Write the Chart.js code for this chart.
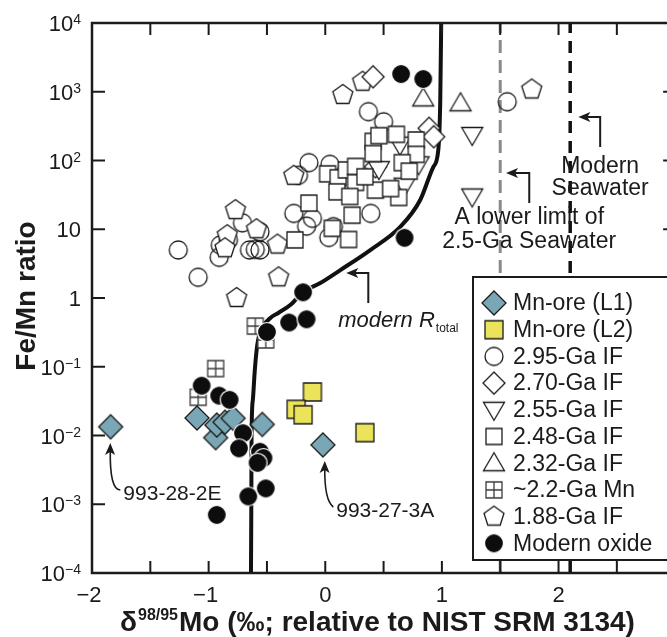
<!DOCTYPE html>
<html>
<head>
<meta charset="utf-8">
<script src="https://cdn.jsdelivr.net/npm/chart.js@4.4.1/dist/chart.umd.min.js"></script>
<style>
  html, body { margin: 0; padding: 0; background: #fff; overflow: hidden; }
  #chart { display: block; }
</style>
</head>
<body>
<canvas id="chart" width="667" height="637"></canvas>
<script>
// ---- data ----
const xTickLabels = [-2, -1, 0, 1, 2];
const yExponents = [-4, -3, -2, -1, 0, 1, 2, 3, 4];
const xMin = -2, xFrame = 3, xVisible = 2.93;   // axis frame is at 3, the picture is cut at ~2.93

const l1X = [-1.84, -1.10, -0.94, -0.93, -0.86, -0.79, -0.54, -0.02];
const l1Y = [0.0134, 0.018, 0.0093, 0.0142, 0.0156, 0.0178, 0.0145, 0.0073];

const l2X = [-0.11, -0.25, -0.19, 0.34];
const l2Y = [0.043, 0.024, 0.020, 0.011];

const if295X = [-1.26, -1.09, -0.91, -0.90, -0.83, -0.71, -0.65, -0.60, -0.56, -0.56, -0.27, -0.16, -0.11, -0.14, -0.23, 0.04, 0.39, 0.07, 0.03, 0.37, 0.50, 1.56];
const if295Y = [5.0, 2.0, 3.9, 5.9, 7.0, 12.4, 5.0, 5.1, 5.0, 9.2, 17, 11.1, 14.4, 93, 61, 88, 17, 10.9, 7.6, 513, 366, 716];

const if270X = [0.41, 0.89, 0.93, 0.43];
const if270Y = [1650, 294, 222, 81];

const if255X = [1.26, 1.26, 0.64, 0.80, 0.46, 0.68];
const if255Y = [235, 30, 170, 88, 75, 43];

const if248X = [0.61, 0.41, 0.46, 0.78, 0.78, 0.41, 0.66, 0.72, 0.02, 0.11, 0.18, 0.26, 0.26, 0.43, 0.63, 0.10, 0.21, 0.23, 0.06, 0.20, -0.14, -0.26, 0.56, 0.34];
const if248Y = [240, 190, 230, 199, 123, 126, 93, 70, 64, 56, 73, 48, 82, 37, 29, 35, 30, 16, 10.3, 7.1, 24, 7.0, 39, 58];

const if232X = [0.84, 1.16];
const if232Y = [800, 680];

const mn22X = [-0.94, -1.09, -0.60, -0.51];
const mn22Y = [0.094, 0.036, 0.39, 0.245];

const if188X = [-0.77, -0.84, -0.86, -0.59, -0.41, -0.40, -0.76, -0.27, 0.15, 0.32, 1.77];
const if188Y = [19, 8.2, 5.3, 10, 6.0, 2.0, 1.0, 60, 900, 1400, 1080];

const oxideX = [0.65, 0.84, 0.68, -0.19, -0.31, -0.16, -0.50, -1.06, -0.91, -0.82, -0.705, -0.74, -0.56, -0.53, -0.58, -0.66, -0.51, -0.93];
const oxideY = [1810, 1530, 7.5, 1.21, 0.44, 0.49, 0.32, 0.053, 0.038, 0.033, 0.0108, 0.0065, 0.0058, 0.0047, 0.0040, 0.0013, 0.0017, 0.0007];

// modern R_total mixing curve
const curveX = [-0.637, -0.634, -0.632, -0.621, -0.604, -0.583, -0.540, -0.471, -0.403, -0.300, -0.189, -0.043, 0.129, 0.386, 0.643, 0.814, 0.926, 0.969, 0.986, 0.994];
const curveY = [1e-4, 9.75e-4, 9.84e-3, 0.0328, 0.0897, 0.207, 0.366, 0.512, 0.605, 0.791, 1.22, 1.65, 2.55, 4.99, 10.8, 26.6, 80.4, 142, 759, 1e4];

const seawaterLimit = 1.5;   // lower limit of 2.5-Ga seawater
const seawaterModern = 2.1;  // modern seawater

// ---- styling ----
const INK = '#1c1a1a';
const FONT = '"Liberation Sans", Arial, sans-serif';

function makeSymbol(kind) {
  const c = document.createElement('canvas');
  c.width = 30; c.height = 30;
  const g = c.getContext('2d');
  g.translate(15, 15);
  g.lineWidth = 1.3;
  g.strokeStyle = INK;
  g.fillStyle = '#fff';
  g.beginPath();
  if (kind === 'circle') {
    g.arc(0, 0, 9, 0, Math.PI * 2);
    g.stroke();
  } else if (kind === 'dot') {
    g.arc(0, 0, 9.5, 0, Math.PI * 2);
    g.fillStyle = '#0e0d0d';
    g.fill();
    g.strokeStyle = '#fff';
    g.lineWidth = 1.2;
    g.stroke();
  } else if (kind === 'diamondL1') {
    g.moveTo(0, -12); g.lineTo(12, 0); g.lineTo(0, 12); g.lineTo(-12, 0); g.closePath();
    g.fillStyle = '#79a7b5';
    g.fill(); g.stroke();
  } else if (kind === 'diamond') {
    g.moveTo(0, -11); g.lineTo(11, 0); g.lineTo(0, 11); g.lineTo(-11, 0); g.closePath();
    g.fill(); g.stroke();
  } else if (kind === 'squareL2') {
    g.rect(-9, -9, 18, 18);
    g.fillStyle = '#ebe35a';
    g.fill(); g.stroke();
  } else if (kind === 'square') {
    g.rect(-8, -8, 16, 16);
    g.fill(); g.stroke();
  } else if (kind === 'grid') {
    g.rect(-8, -8, 16, 16);
    g.fill();
    g.strokeStyle = '#3c3a3a';
    g.moveTo(0, -8); g.lineTo(0, 8); g.moveTo(-8, 0); g.lineTo(8, 0);
    g.stroke();
  } else if (kind === 'triUp') {
    g.moveTo(0, -10.5); g.lineTo(10.5, 7.5); g.lineTo(-10.5, 7.5); g.closePath();
    g.fill(); g.stroke();
  } else if (kind === 'triDown') {
    g.moveTo(0, 10.5); g.lineTo(10.5, -7.5); g.lineTo(-10.5, -7.5); g.closePath();
    g.fill(); g.stroke();
  } else if (kind === 'pentagon') {
    for (let k = 0; k < 5; k++) {
      const t = -Math.PI / 2 + k * 2 * Math.PI / 5;
      const px = 10.5 * Math.cos(t), py = 10.5 * Math.sin(t);
      if (k === 0) g.moveTo(px, py); else g.lineTo(px, py);
    }
    g.closePath();
    g.fill(); g.stroke();
  }
  return c;
}

function pts(xs, ys) {
  return xs.map((x, i) => ({ x: x, y: ys[i] }));
}

function markSet(label, xs, ys, kind, order) {
  const s = makeSymbol(kind);
  return { label: label, data: pts(xs, ys), pointStyle: s, legendSymbol: s,
           pointRadius: 9, pointHoverRadius: 9, order: order };
}

function vline(x, color, width, dash) {
  return { type: 'line', data: [{ x: x, y: 1e-4 }, { x: x, y: 1e4 }],
           borderColor: color, borderWidth: width, borderDash: dash,
           pointRadius: 0, fill: false, order: 20 };
}

const datasets = [
  markSet('Mn-ore (L1)', l1X, l1Y, 'diamondL1', 1),
  markSet('Mn-ore (L2)', l2X, l2Y, 'squareL2', 2),
  markSet('2.95-Ga IF', if295X, if295Y, 'circle', 9),
  markSet('2.70-Ga IF', if270X, if270Y, 'diamond', 7),
  markSet('2.55-Ga IF', if255X, if255Y, 'triDown', 6),
  markSet('2.48-Ga IF', if248X, if248Y, 'square', 4),
  markSet('2.32-Ga IF', if232X, if232Y, 'triUp', 5),
  markSet('~2.2-Ga Mn', mn22X, mn22Y, 'grid', 3),
  markSet('1.88-Ga IF', if188X, if188Y, 'pentagon', 8),
  markSet('Modern oxide', oxideX, oxideY, 'dot', 0),
  { type: 'line', label: 'modern Rtotal', data: pts(curveX, curveY),
    borderColor: '#111', borderWidth: 4, pointRadius: 0, fill: false,
    cubicInterpolationMode: 'monotone', order: 10 },
  vline(seawaterLimit, '#8a8a8a', 3, [13, 7]),
  vline(seawaterModern, '#111', 3.5, [12, 8])
];

// ---- hand-drawn axes, labels, annotations, legend ----
function arrowHead(ctx, x, y, ang) {
  ctx.save();
  ctx.translate(x, y);
  ctx.rotate(ang);
  ctx.beginPath();
  ctx.moveTo(0, 0);
  ctx.lineTo(-12, -5);
  ctx.lineTo(-9, 0);
  ctx.lineTo(-12, 5);
  ctx.closePath();
  ctx.fill();
  ctx.restore();
}

const decor = {
  id: 'decor',
  afterDraw(chart) {
    const ctx = chart.ctx;
    const a = chart.chartArea;
    const xs = chart.scales.x, ys = chart.scales.y;
    const X = v => xs.getPixelForValue(v);
    const Y = l => ys.getPixelForValue(Math.pow(10, l));
    const right = X(xFrame);
    ctx.save();
    ctx.strokeStyle = INK;
    ctx.fillStyle = INK;

    // frame + inward ticks
    ctx.lineWidth = 2.5;
    ctx.strokeRect(a.left, a.top, right - a.left, a.bottom - a.top);
    ctx.lineWidth = 2;
    ctx.beginPath();
    for (let v = xMin; v <= xFrame + 0.001; v += 0.5) {
      const px = X(v);
      ctx.moveTo(px, a.top); ctx.lineTo(px, a.top + 12);
      ctx.moveTo(px, a.bottom); ctx.lineTo(px, a.bottom - 12);
    }
    yExponents.forEach(e => {
      const py = Y(e);
      ctx.moveTo(a.left, py); ctx.lineTo(a.left + 13, py);
      ctx.moveTo(right, py); ctx.lineTo(right - 12, py);
    });
    ctx.stroke();

    // y tick labels: 10 with raised exponent
    ctx.textBaseline = 'alphabetic';
    ctx.textAlign = 'left';
    yExponents.forEach(e => {
      const py = Y(e);
      let base = '10', sup = '';
      if (e === 0) base = '1';
      else if (e !== 1) sup = e < 0 ? '\u2212' + (-e) : String(e);
      ctx.font = '22px ' + FONT;
      const wb = ctx.measureText(base).width;
      ctx.font = '14px ' + FONT;
      const wsup = sup ? ctx.measureText(sup).width : 0;
      const x0 = a.left - 11 - wb - wsup;
      ctx.font = '22px ' + FONT;
      ctx.fillText(base, x0, py + 8);
      if (sup) {
        ctx.font = '14px ' + FONT;
        ctx.fillText(sup, x0 + wb, py + 1);
      }
    });

    // x tick labels
    ctx.font = '22px ' + FONT;
    ctx.textAlign = 'center';
    xTickLabels.forEach(v => {
      const t = v < 0 ? '\u2212' + (-v) : String(v);
      ctx.fillText(t, X(v) - (v < 0 ? 3 : 0), a.bottom + 29);
    });

    // axis titles
    ctx.save();
    ctx.font = 'bold 28px ' + FONT;
    ctx.translate(35, 296);
    ctx.rotate(-Math.PI / 2);
    ctx.textAlign = 'center';
    ctx.fillText('Fe/Mn ratio', 0, 0);
    ctx.restore();

    ctx.textAlign = 'left';
    let tx = 120;
    const tb = 631;
    ctx.font = 'bold 28px ' + FONT;
    ctx.fillText('\u03b4', tx, tb);
    tx += ctx.measureText('\u03b4').width + 1;
    ctx.font = 'bold 16px ' + FONT;
    ctx.fillText('98/95', tx, tb - 11);
    tx += ctx.measureText('98/95').width + 1;
    ctx.font = 'bold 28px ' + FONT;
    ctx.fillText('Mo (\u2030; relative to NIST SRM 3134)', tx, tb);

    // annotations
    ctx.font = '23px ' + FONT;
    ctx.textAlign = 'center';
    ctx.fillText('Modern', X(2.357), Y(1.811));
    ctx.fillText('Seawater', X(2.357), Y(1.498));
    ctx.fillText('A lower limit of', X(1.749), Y(1.076));
    ctx.fillText('2.5-Ga Seawater', X(1.749), Y(0.723));

    ctx.textAlign = 'left';
    ctx.font = 'italic 22px ' + FONT;
    const mx = X(0.111), my = Y(-0.417);
    ctx.fillText('modern R', mx, my);
    const mw = ctx.measureText('modern R').width;
    ctx.font = '12px ' + FONT;
    ctx.fillText('total', mx + mw + 1, my + 5);

    ctx.font = '21px ' + FONT;
    ctx.fillText('993-28-2E', X(-1.731), Y(-2.938));
    ctx.fillText('993-27-3A', X(0.094), Y(-3.185));

    // elbow arrows
    ctx.lineWidth = 2;
    [[2.357, 2.196, 2.633, 2.17], [1.749, 1.382, 1.818, 1.55], [0.369, -0.073, 0.364, 0.18]].forEach(r => {
      const xv = X(r[0]), y0 = Y(r[1]), y1 = Y(r[2]), xt = X(r[3]);
      ctx.beginPath();
      ctx.moveTo(xv, y0); ctx.lineTo(xv, y1); ctx.lineTo(xt + 8, y1);
      ctx.stroke();
      arrowHead(ctx, xt, y1, Math.PI);
    });

    // curved arrows to the two labelled samples
    ctx.lineWidth = 1.6;
    [[-1.757, -2.793, -1.85, -2.793, -1.843, -2.109], [0.069, -3.04, -0.009, -2.94, -0.004, -2.371]].forEach(r => {
      const sx = X(r[0]), sy = Y(r[1]), cx = X(r[2]), cy = Y(r[3]), ex = X(r[4]), ey = Y(r[5]);
      ctx.beginPath();
      ctx.moveTo(sx, sy);
      ctx.quadraticCurveTo(cx, cy, ex, ey + 6);
      ctx.stroke();
      arrowHead(ctx, ex, ey, Math.atan2(ey - cy, ex - cx));
    });

    // legend box (its right side runs past the picture edge)
    const lx = a.left + 381, ly = a.top + 254, lb = a.top + 537;
    ctx.fillStyle = '#fff';
    ctx.fillRect(lx, ly, right - 2 - lx, lb - ly);
    ctx.lineWidth = 2;
    ctx.strokeStyle = INK;
    ctx.strokeRect(lx, ly, right - 2 - lx, lb - ly);
    ctx.fillStyle = INK;
    ctx.font = '23px ' + FONT;
    ctx.textAlign = 'left';
    ctx.textBaseline = 'middle';
    const entries = chart.data.datasets.filter(d => d.legendSymbol);
    entries.forEach((d, i) => {
      const cy = ly + 26 + i * 26.7;
      const s = d.legendSymbol;
      ctx.drawImage(s, lx + 21 - s.width / 2, cy - s.height / 2);
      ctx.fillText(d.label, lx + 40, cy + 1);
    });
    ctx.restore();
  }
};

new Chart(document.getElementById('chart'), {
  type: 'scatter',
  data: { datasets: datasets },
  options: {
    responsive: false,
    animation: false,
    devicePixelRatio: 1,
    layout: { autoPadding: false, padding: { left: 92, top: 23, right: 0, bottom: 64 } },
    plugins: { legend: { display: false }, tooltip: { enabled: false } },
    scales: {
      x: { type: 'linear', min: xMin, max: xVisible, display: false },
      y: { type: 'logarithmic', min: 1e-4, max: 1e4, display: false }
    }
  },
  plugins: [decor]
});
</script>
</body>
</html>
